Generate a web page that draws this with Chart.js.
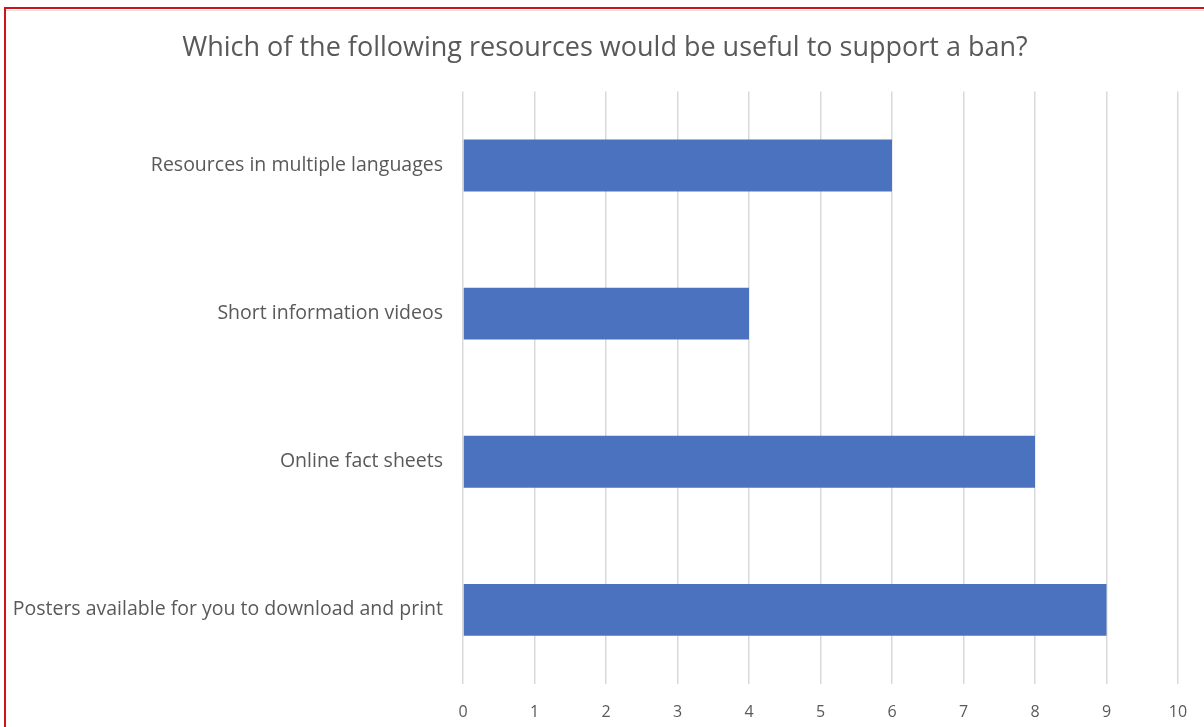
<!DOCTYPE html>
<html>
<head>
<meta charset="utf-8">
<script src="https://cdn.jsdelivr.net/npm/chart.js@4"></script>
<style>
  html, body { margin: 0; padding: 0; background: #fff; }
  #wrap { position: relative; width: 1204px; height: 727px; overflow: hidden; }
  #frame { position: absolute; left: 4px; top: 7px; width: 1300px; height: 800px;
           border-left: 2px solid #d0121b; border-top: 2px solid #d0121b; box-sizing: border-box; }
  #shade { position: absolute; left: 6px; top: 10px; width: 1300px; height: 1px; background: #e3e3e3; }
  canvas { position: absolute; left: 0; top: 0; }
</style>
</head>
<body>
<div id="wrap">
  <div id="frame"></div>
  <div id="shade"></div>
  <canvas id="resChart" width="1204" height="727"></canvas>
</div>
<script>
const categories = [
  'Resources in multiple languages',
  'Short information videos',
  'Online fact sheets',
  'Posters available for you to download and print'
];
const responses = [6, 4, 8, 9];
const tickValues = [0, 1, 2, 3, 4, 5, 6, 7, 8, 9, 10];

const textColor = '#595959';
const fontFamily = "'Open Sans', 'Liberation Sans', sans-serif";

const ctx = document.getElementById('resChart').getContext('2d');
const chart = new Chart(ctx, {
  type: 'bar',
  data: {
    labels: categories,
    datasets: [{
      data: responses,
      backgroundColor: '#4a72be',
      borderWidth: 0,
      barPercentage: 0.7,
      categoryPercentage: 0.5
    }]
  },
  options: {
    indexAxis: 'y',
    responsive: false,
    animation: false,
    layout: { padding: { left: 6, right: 0, top: 0, bottom: 0 } },
    plugins: {
      legend: { display: false },
      tooltip: { enabled: false },
      title: {
        display: true,
        text: 'Which of the following resources would be useful to support a ban?',
        color: textColor,
        font: { family: fontFamily, size: 27, weight: 'normal' },
        padding: { top: 32, bottom: 27 }
      }
    },
    scales: {
      x: {
        min: 0,
        max: 10,
        afterBuildTicks: (scale) => {
          scale.ticks = tickValues.map(v => ({ value: v }));
        },
        afterFit: (scale) => {
          scale.height = 43;
          // the spacer axis already leaves room for the last label
          scale.paddingLeft = 0;
          scale.paddingRight = 0;
        },
        border: { display: false },
        grid: { color: '#d9d9d9', lineWidth: 1.5, drawTicks: false },
        ticks: { color: textColor, padding: 19, font: { family: fontFamily, size: 16 } }
      },
      y: {
        afterFit: (scale) => { scale.width = 457; },
        border: { display: false },
        grid: { display: false, drawTicks: false },
        ticks: { color: textColor, padding: 20, font: { family: fontFamily, size: 19.5 } }
      },
      // empty strip on the right so the plot stops short of the edge
      spacer: {
        type: 'linear',
        position: 'right',
        afterFit: (scale) => { scale.width = 26; },
        border: { display: false },
        grid: { display: false, drawTicks: false },
        ticks: { display: false }
      }
    }
  }
});
</script>
</body>
</html>
